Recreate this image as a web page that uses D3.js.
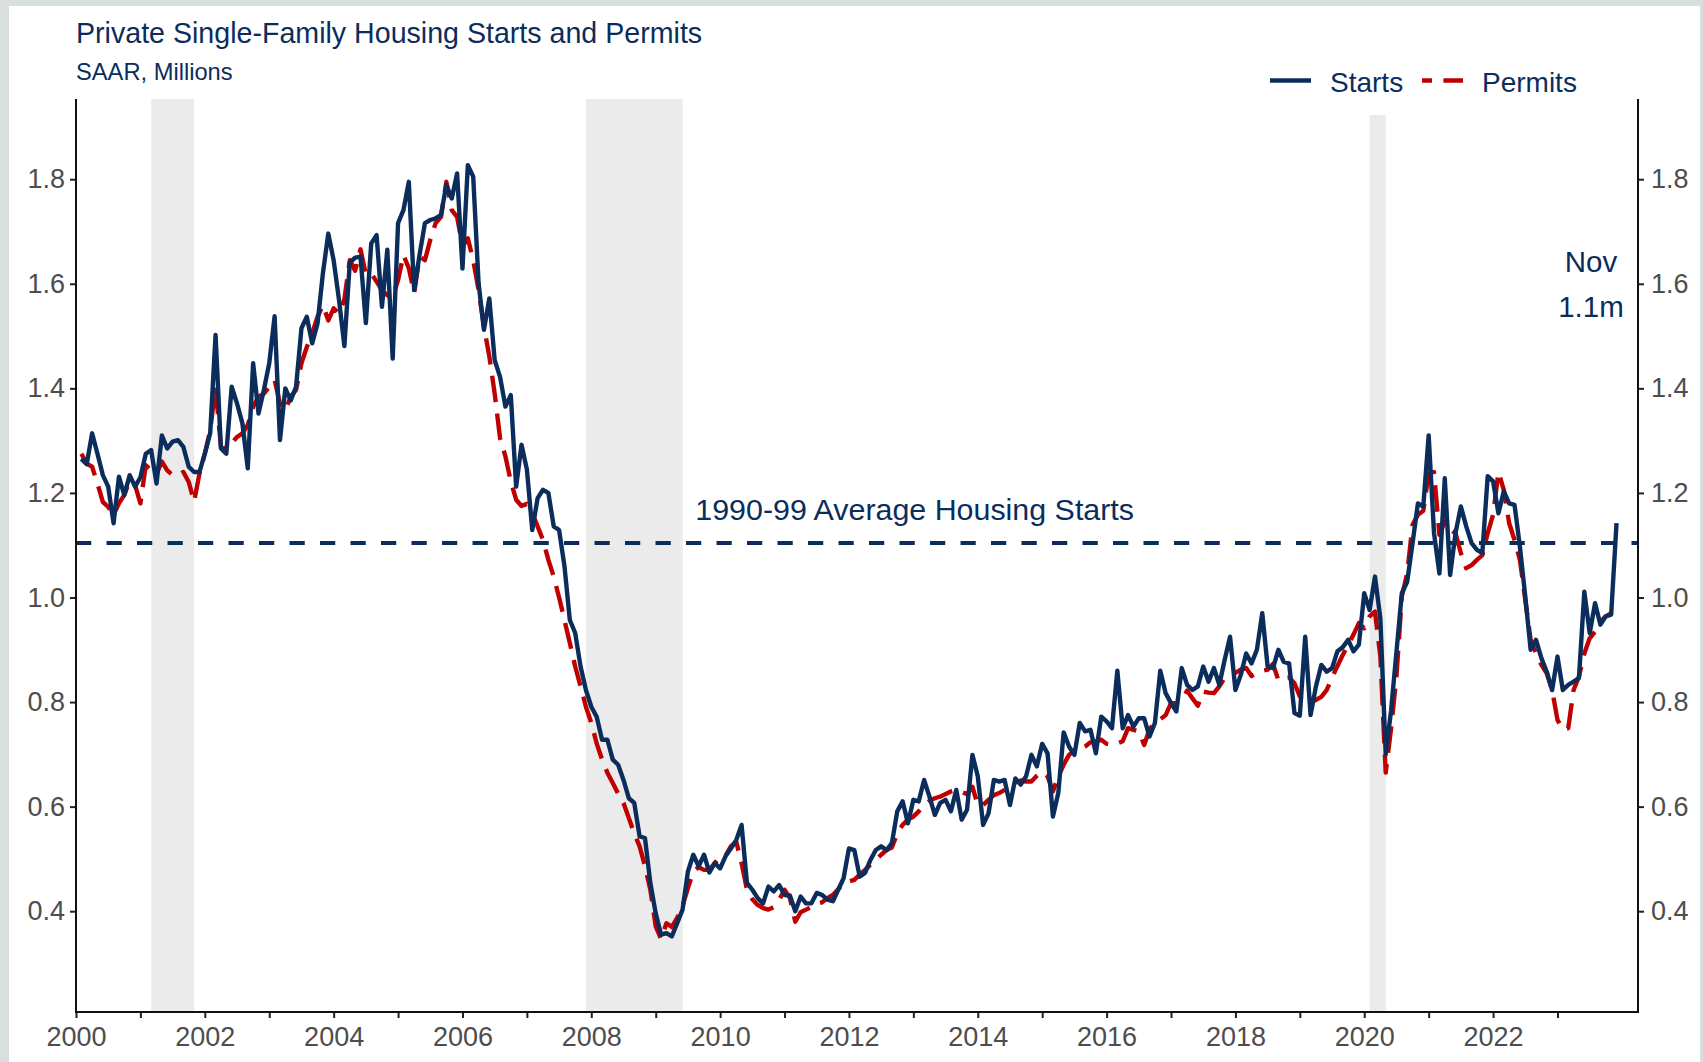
<!DOCTYPE html>
<html><head><meta charset="utf-8">
<script src="https://cdn.jsdelivr.net/npm/d3@7"></script>
<style>
body{margin:0;background:#d9dedf;}
svg{display:block;font-family:"Liberation Sans",Arial,sans-serif;}
</style>
</head><body>
<svg id="chart" width="1703" height="1062"></svg>
<script>
// ---------------- DATA ----------------
const firstYear = 2000;           // series start: Jan 2000, monthly
const seriesNames = ["Starts", "Permits"];
// Private single-family housing starts, SAAR, millions (Jan 2000 - Nov 2023)
const starts = [
1.265,1.255,1.314,1.275,1.234,1.212,1.142,1.231,1.196,1.234,1.212,1.230,
1.275,1.282,1.218,1.310,1.285,1.298,1.301,1.288,1.250,1.240,1.240,1.275,
1.314,1.502,1.285,1.275,1.403,1.371,1.333,1.247,1.448,1.352,1.397,1.448,
1.538,1.301,1.400,1.377,1.403,1.515,1.537,1.486,1.524,1.620,1.696,1.645,
1.569,1.481,1.640,1.650,1.652,1.525,1.677,1.693,1.556,1.665,1.457,1.716,
1.741,1.795,1.588,1.655,1.716,1.722,1.725,1.732,1.789,1.763,1.811,1.629,
1.827,1.805,1.601,1.512,1.572,1.454,1.422,1.365,1.387,1.212,1.292,1.245,
1.129,1.190,1.206,1.200,1.136,1.129,1.060,0.957,0.932,0.868,0.823,0.791,
0.772,0.728,0.728,0.690,0.680,0.651,0.616,0.607,0.543,0.540,0.454,0.396,
0.355,0.358,0.352,0.377,0.403,0.476,0.508,0.486,0.508,0.474,0.492,0.482,
0.505,0.520,0.536,0.565,0.454,0.441,0.425,0.415,0.447,0.438,0.450,0.431,
0.430,0.400,0.428,0.415,0.415,0.435,0.431,0.422,0.419,0.441,0.463,0.520,
0.517,0.466,0.473,0.498,0.517,0.524,0.517,0.530,0.591,0.610,0.568,0.613,
0.610,0.651,0.619,0.584,0.607,0.613,0.591,0.632,0.575,0.594,0.699,0.658,
0.565,0.587,0.651,0.648,0.651,0.603,0.654,0.642,0.658,0.699,0.677,0.720,
0.702,0.581,0.626,0.742,0.715,0.699,0.760,0.744,0.747,0.702,0.772,0.763,
0.750,0.860,0.750,0.775,0.753,0.769,0.769,0.734,0.760,0.860,0.817,0.798,
0.782,0.865,0.833,0.823,0.830,0.868,0.839,0.865,0.833,0.881,0.925,0.823,
0.852,0.893,0.874,0.900,0.970,0.868,0.865,0.900,0.877,0.874,0.779,0.774,
0.925,0.775,0.830,0.871,0.858,0.865,0.897,0.905,0.919,0.897,0.910,1.008,
0.976,1.040,0.960,0.700,0.784,0.896,1.008,1.030,1.104,1.180,1.174,1.310,
1.123,1.046,1.228,1.043,1.123,1.174,1.136,1.104,1.091,1.085,1.232,1.222,
1.161,1.203,1.180,1.177,1.097,1.002,0.900,0.919,0.884,0.858,0.823,0.887,
0.823,0.833,0.839,0.846,1.011,0.932,0.989,0.948,0.964,0.967,1.142
];
// Private single-family housing permits, SAAR, millions (Jan 2000 - Oct 2023)
const permits = [
1.275,1.256,1.250,1.218,1.183,1.173,1.158,1.180,1.196,1.224,1.215,1.180,
1.253,1.243,1.237,1.260,1.243,1.234,1.234,1.240,1.221,1.183,1.237,1.275,
1.320,1.403,1.288,1.285,1.295,1.307,1.314,1.330,1.365,1.384,1.390,1.403,
1.416,1.371,1.358,1.384,1.397,1.448,1.479,1.505,1.537,1.559,1.530,1.553,
1.543,1.570,1.645,1.625,1.666,1.618,1.620,1.604,1.588,1.578,1.575,1.607,
1.655,1.630,1.582,1.652,1.645,1.684,1.716,1.728,1.795,1.741,1.728,1.671,
1.687,1.645,1.588,1.518,1.461,1.390,1.305,1.270,1.222,1.187,1.175,1.179,
1.161,1.136,1.110,1.072,1.040,1.000,0.957,0.913,0.868,0.830,0.791,0.760,
0.721,0.690,0.665,0.645,0.625,0.607,0.578,0.549,0.524,0.486,0.441,0.371,
0.347,0.377,0.370,0.387,0.410,0.444,0.476,0.484,0.479,0.479,0.492,0.505,
0.506,0.524,0.533,0.492,0.441,0.423,0.412,0.406,0.403,0.408,0.422,0.441,
0.425,0.380,0.398,0.403,0.408,0.414,0.417,0.425,0.431,0.442,0.454,0.457,
0.460,0.470,0.479,0.489,0.498,0.508,0.517,0.522,0.549,0.565,0.575,0.581,
0.591,0.603,0.611,0.616,0.619,0.624,0.629,0.632,0.628,0.624,0.638,0.603,
0.603,0.613,0.622,0.626,0.632,0.638,0.646,0.650,0.648,0.648,0.659,0.667,
0.658,0.629,0.658,0.680,0.699,0.707,0.710,0.715,0.723,0.725,0.728,0.720,
0.718,0.721,0.725,0.750,0.747,0.744,0.718,0.748,0.761,0.767,0.775,0.798,
0.798,0.804,0.822,0.807,0.793,0.820,0.818,0.817,0.830,0.846,0.852,0.856,
0.862,0.865,0.850,0.855,0.860,0.862,0.873,0.842,0.846,0.847,0.836,0.811,
0.799,0.798,0.804,0.810,0.823,0.847,0.869,0.890,0.910,0.929,0.951,0.941,
0.964,0.973,0.887,0.665,0.750,0.849,1.002,1.046,1.139,1.158,1.166,1.237,
1.240,1.120,1.145,1.130,1.123,1.085,1.056,1.062,1.072,1.081,1.123,1.158,
1.240,1.206,1.142,1.110,1.072,0.995,0.919,0.893,0.871,0.855,0.823,0.766,
0.747,0.750,0.823,0.849,0.893,0.922,0.935,0.954,0.964,0.970
];
const recessions = [[2001.167, 2001.833], [2007.917, 2009.417], [2020.083, 2020.333]];
const avgStarts1990s = 1.104;
const yTickValues = [0.4, 0.6, 0.8, 1.0, 1.2, 1.4, 1.6, 1.8];
const xTickYears = d3.range(2000, 2024);
const titleText = "Private Single-Family Housing Starts and Permits";
const subtitleText = "SAAR, Millions";
const avgLabel = "1990-99 Average Housing Starts";
const lastLabel = ["Nov", "1.1m"];

// ---------------- LAYOUT ----------------
const W = 1703, H = 1062;
const L = 76, R = 1638, T = 99, B = 1012;
const navy = "#0b2d5c", red = "#c00000", tickGrey = "#4d4d4d";
const LW = 4.4;
const svg = d3.select("#chart");

svg.append("rect").attr("x", 9).attr("y", 6).attr("width", 1691).attr("height", H - 6).attr("fill", "#ffffff");

const x = d3.scaleLinear().domain([2000, 2024.25]).range([L, R]);
const y = d3.scaleLinear().domain([0.2072, 1.9534]).range([B, T]);
const tOf = i => firstYear + (i + 1) / 12;

// recession shading
svg.append("g").selectAll("rect").data(recessions).join("rect")
  .attr("x", d => x(d[0])).attr("width", d => x(d[1]) - x(d[0]))
  .attr("y", T).attr("height", B - T).attr("fill", "#ebebeb");

// average line
svg.append("line").attr("x1", L).attr("x2", R)
  .attr("y1", y(avgStarts1990s)).attr("y2", y(avgStarts1990s))
  .attr("stroke", navy).attr("stroke-width", 4).attr("stroke-dasharray", "15.25 15.25");

svg.append("text").attr("x", x(2013.02)).attr("y", 520).attr("text-anchor", "middle")
  .attr("font-size", 30.4).attr("fill", navy).text(avgLabel);

// lines
const line = d3.line().x((d, i) => x(tOf(i))).y(d => y(d));
svg.append("path").datum(permits).attr("d", line).attr("fill", "none")
  .attr("stroke", red).attr("stroke-width", LW).attr("stroke-linejoin", "round")
  .attr("stroke-dasharray", "26.6 11.4");
svg.append("path").datum(starts).attr("d", line).attr("fill", "none")
  .attr("stroke", navy).attr("stroke-width", LW).attr("stroke-linejoin", "round");

// axes
const fmt = d3.format(".1f");
const gL = svg.append("g").attr("transform", `translate(${L},0)`)
  .call(d3.axisLeft(y).tickValues(yTickValues).tickFormat(fmt).tickSize(6).tickPadding(5));
const gR = svg.append("g").attr("transform", `translate(${R},0)`)
  .call(d3.axisRight(y).tickValues(yTickValues).tickFormat(fmt).tickSize(6).tickPadding(7));
const gB = svg.append("g").attr("transform", `translate(0,${B})`)
  .call(d3.axisBottom(x).tickValues(xTickYears).tickFormat(d => d % 2 === 0 ? d : "").tickSize(6).tickPadding(9));
[gL, gR, gB].forEach(g => {
  g.select(".domain").remove();
  g.selectAll(".tick line").attr("stroke", "#222").attr("stroke-width", 2);
  g.selectAll(".tick text").attr("fill", tickGrey).attr("font-size", 27).attr("font-family", "Liberation Sans, Arial, sans-serif");
});
svg.append("line").attr("x1", L).attr("x2", L).attr("y1", T).attr("y2", B + 1).attr("stroke", "#111").attr("stroke-width", 2);
svg.append("line").attr("x1", R).attr("x2", R).attr("y1", T).attr("y2", B + 1).attr("stroke", "#111").attr("stroke-width", 2);
svg.append("line").attr("x1", L - 1).attr("x2", R + 1).attr("y1", B).attr("y2", B).attr("stroke", "#111").attr("stroke-width", 2.2);

// titles
svg.append("text").attr("x", 76).attr("y", 43).attr("font-size", 28.6).attr("fill", navy).text(titleText);
svg.append("text").attr("x", 76).attr("y", 80).attr("font-size", 23.7).attr("fill", navy).text(subtitleText);

// legend
const lg = svg.append("g");
lg.append("rect").attr("x", 1255).attr("y", 40).attr("width", 340).attr("height", 75).attr("fill", "#ffffff");
lg.append("line").attr("x1", 1270).attr("x2", 1311).attr("y1", 80.5).attr("y2", 80.5)
  .attr("stroke", navy).attr("stroke-width", LW);
lg.append("text").attr("x", 1330).attr("y", 91.5).attr("font-size", 28).attr("fill", navy).text(seriesNames[0]);
lg.append("line").attr("x1", 1422).attr("x2", 1463).attr("y1", 80.5).attr("y2", 80.5)
  .attr("stroke", red).attr("stroke-width", LW).attr("stroke-dasharray", "26.6 11.4").attr("stroke-dashoffset", 16.6);
lg.append("text").attr("x", 1482).attr("y", 91.5).attr("font-size", 28).attr("fill", navy).text(seriesNames[1]);

// last value annotation
svg.append("text").attr("x", 1591).attr("y", 271.5).attr("text-anchor", "middle").attr("font-size", 29.5).attr("fill", navy).text(lastLabel[0]);
svg.append("text").attr("x", 1591).attr("y", 316.5).attr("text-anchor", "middle").attr("font-size", 29.5).attr("fill", navy).text(lastLabel[1]);
</script>
</body></html>
